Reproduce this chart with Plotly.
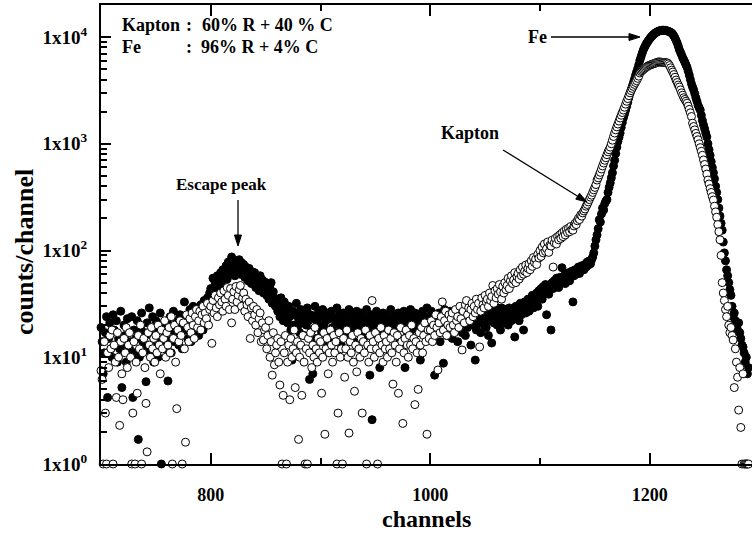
import math
import plotly.graph_objects as go

# ---------------- data ----------------
channels = list(range(700, 1291))

fe_counts = [
    19, 14, 7, 11, 17, 24, 4.2, 15, 21, 12,          # 700
    10, 25, 18, 13, 22, 9, 15, 12, 27, 5.2,          # 710
    13, 20, 16, 9, 23, 17, 12, 14, 24, 4.2,          # 720
    18, 11, 15, 22, 1.7, 10, 19, 26, 14, 12,         # 730
    17, 5.9, 21, 13, 29, 11, 16, 24, 9, 18,          # 740
    22, 14, 10, 19, 26, 1, 13, 21, 17, 12,           # 750
    15, 6, 20, 24, 11, 18, 27, 14, 16, 22,           # 760
    19, 13, 25, 17, 12, 23, 33, 18, 21, 15,          # 770
    24, 28, 14, 20, 30, 17, 22, 26, 19, 16,          # 780
    25, 31, 21, 18, 34, 27, 22, 36, 29, 40,          # 790
    44, 33, 55, 38, 50, 42, 58, 48, 36, 62,          # 800
    52, 66, 45, 60, 72, 54, 78, 63, 70, 87,          # 810
    68, 75, 58, 80, 65, 73, 82, 60, 77, 69,          # 820
    74, 56, 70, 64, 52, 68, 60, 49, 63, 57,          # 830
    62, 45, 55, 50, 42, 58, 47, 53, 40, 51,          # 840
    46, 38, 49, 35, 44, 50, 32, 41, 36, 30,          # 850
    34, 27, 31, 24, 36, 28, 22, 33, 26, 29,          # 860
    21, 30, 24, 18, 9.4, 27, 20, 25, 32, 19,         # 870
    23, 17, 28, 21, 26, 16, 24, 20, 29, 22,          # 880
    6.2, 25, 18, 7, 23, 30, 15, 21, 26, 19,          # 890
    24, 17, 28, 20, 14, 22, 26, 18, 23, 16,          # 900
    27, 19, 15, 23, 21, 29, 17, 25, 20, 13,          # 910
    22, 26, 18, 24, 16, 20, 28, 15, 23, 19,          # 920
    25, 14, 21, 27, 19, 23, 17, 26, 20, 24,          # 930
    18, 22, 28, 16, 21, 6.8, 25, 2.6, 19, 23,        # 940
    20, 27, 15, 24, 8, 22, 18, 26, 14, 21,           # 950
    25, 19, 23, 17, 28, 20, 16, 24, 21, 18,          # 960
    22, 26, 15, 20, 24, 19, 27, 8, 21, 17,           # 970
    24, 20, 28, 18, 23, 14, 26, 21, 19, 25,          # 980
    17, 9.4, 22, 27, 19, 24, 16, 29, 21, 23,         # 990
    19, 27, 22, 15, 6.8, 25, 20, 17, 26, 14,         # 1000
    23, 18, 8.8, 28, 21, 16, 24, 19, 27, 20,         # 1010
    15, 25, 22, 18, 26, 14, 23, 20, 28, 17,          # 1020
    24, 21, 16, 27, 19, 25, 22, 13, 26, 20,          # 1030
    23, 9.4, 18, 28, 21, 25, 17, 24, 29, 20,         # 1040
    26, 19, 23, 16, 28, 22, 13.6, 25, 21, 30,        # 1050
    24, 20, 27, 22, 18, 29, 25, 21, 28, 23,          # 1060
    26, 20, 29, 24, 22, 27, 25, 15.5, 30, 23,        # 1070
    28, 22, 32, 25, 29, 18, 33, 26, 30, 35,          # 1080
    27, 34, 31, 38, 29, 36, 33, 40, 30, 42,          # 1090
    38, 44, 35, 46, 41, 48, 25, 43, 39, 47,          # 1100
    18, 50, 44, 52, 46, 55, 48, 45, 56, 51,          # 1110
    69, 53, 58, 49, 60, 55, 62, 52, 57, 64,          # 1120
    33, 58, 66, 60, 63, 70, 61, 67, 72, 69,          # 1130
    66, 74, 70, 78, 73, 80, 75, 82, 87, 95,          # 1140
    110, 126, 140, 160, 194, 185, 220, 250, 240, 275,  # 1150
    290, 300, 350, 390, 430, 480, 535, 620, 700, 810,  # 1160
    930, 1050, 1150, 1260, 1420, 1580, 1750, 1900, 2070, 2250,  # 1170
    2450, 2700, 2950, 3200, 3450, 3700, 4000, 4350, 4700, 5050,  # 1180
    5500, 6050, 6500, 7000, 7500, 7900, 8300, 8700, 9000, 9350,  # 1190
    9650, 9950, 10200, 10450, 10700, 10900, 11050, 11200, 11350, 11450,  # 1200
    11500, 11550, 11600, 11580, 11550, 11500, 11400, 11300, 11200, 11050,  # 1210
    10900, 10600, 10200, 9800, 9300, 8800, 8200, 7600, 7200, 6800,  # 1220
    6400, 6100, 5800, 5500, 5200, 4800, 4400, 4000, 3650, 3400,  # 1230
    3200, 2950, 2700, 2500, 2300, 2180, 2070, 1850, 1650, 1500,  # 1240
    1380, 1260, 1160, 1000, 880, 780, 680, 600, 535, 470,  # 1250
    400, 350, 300, 250, 210, 180, 155, 120, 95, 80,  # 1260
    66, 58, 50, 43, 38, 30, 24, 26, 22, 20,          # 1270
    18, 21, 17, 15, 13, 12.5, 11, 9, 10, 7,          # 1280
    8,                                               # 1290
]

kapton_counts = [
    7.5, 6.2, 1, 14, 3, 1, 11, 8, 16, 12,            # 700
    18, 1, 13, 9, 4.2, 17, 10, 2.3, 14, 7,           # 710
    4.0, 15, 11, 19, 8, 13, 17, 10, 1, 3.0,          # 720
    14, 1, 9, 4.6, 16, 12, 20, 1, 11, 15,            # 730
    8, 3.7, 1.3, 17, 13, 10, 19, 12, 15, 9,          # 740
    16, 11, 20, 13, 7, 18, 12, 15, 22, 10,           # 750
    17, 13, 19, 11, 24, 1, 15, 20, 9, 3.3,           # 760
    18, 14, 22, 16, 1, 21, 12, 1.6, 25, 19,          # 770
    14, 23, 17, 26, 20, 15, 24, 28, 19, 22,          # 780
    27, 18, 25, 30, 21, 26, 23, 32, 20, 28,          # 790
    30, 13.5, 34, 26, 38, 29, 24, 36, 31, 40,        # 800
    33, 27, 42, 35, 30, 45, 38, 28, 44, 21,          # 810
    35, 41, 28, 46, 33, 38, 43, 47, 30, 36,          # 820
    40, 27, 35, 31, 24, 33, 15, 29, 22, 30,          # 830
    25, 20, 28, 17, 23, 26, 14, 21, 14.5, 18,        # 840
    19, 12, 16, 22, 10, 14, 6.8, 17, 8.5, 11,        # 850
    13, 15, 9, 5.5, 14, 1, 4.4, 11, 16, 1,           # 860
    9, 13, 4.0, 15, 10, 12, 18, 5.2, 11, 14,         # 870
    1.7, 10, 13, 4.4, 16, 9, 1, 12, 1, 15,           # 880
    11, 17, 8, 13, 10, 19, 12, 9, 15, 11,            # 890
    14, 4.6, 10, 17, 1.9, 12, 15, 7, 11, 18,         # 900
    13, 9, 16, 11, 14, 1, 3.0, 17, 10, 12,           # 910
    1, 15, 6.5, 12, 18, 10, 1.95, 14, 11, 16,        # 920
    9, 4.8, 13, 7.3, 17, 12, 10, 15, 3.0, 14,        # 930
    11, 18, 1, 13, 9, 16, 12, 34, 14, 10,            # 940
    17, 12, 1, 15, 11, 19, 13, 9, 16, 12,            # 950
    14, 10, 18, 12, 15, 11, 5.6, 17, 13, 9,          # 960
    16, 4.6, 12, 19, 14, 2.4, 11, 15, 18, 13,        # 970
    10, 16, 13, 20, 12, 15, 3.6, 14, 11, 5,          # 980
    17, 13, 19, 11, 16, 21, 14, 1.9, 18, 15,         # 990
    18, 22, 14, 20, 16, 25, 19, 7.6, 21, 17,         # 1000
    24, 33, 18, 22, 27, 16, 20, 25, 19, 23,          # 1010
    26, 20, 17, 28, 22, 24, 19, 30, 23, 11.7,        # 1020
    27, 21, 31, 34, 25, 29, 22, 28, 32, 24,          # 1030
    30, 26, 35, 28, 32, 12.5, 27, 36, 31, 29,        # 1040
    38, 33, 35, 30, 40, 34, 37, 47, 32, 42,          # 1050
    36, 44, 39, 48, 41, 35, 46, 40, 50, 43,          # 1060
    47, 55, 44, 52, 58, 49, 53, 62, 50, 57,          # 1070
    61, 54, 66, 58, 70, 60, 64, 73, 62, 68,          # 1080
    75, 66, 80, 71, 86, 77, 83, 74, 92, 85,          # 1090
    100, 88, 108, 95, 115, 98, 104, 120, 96, 112,    # 1100
    110, 125, 70, 118, 130, 115, 135, 126, 140, 130,  # 1110
    146, 135, 152, 140, 158, 147, 162, 150, 168, 157,  # 1120
    155, 170, 180, 175, 190, 200, 195, 215, 210, 225,  # 1130
    235, 245, 260, 270, 285, 300, 316, 330, 350, 370,  # 1140
    390, 415, 457, 480, 510, 540, 580, 620, 660, 700,  # 1150
    740, 790, 840, 880, 930, 1000, 1080, 1170, 1260, 1350,  # 1160
    1440, 1530, 1630, 1740, 1850, 1960, 2070, 2200, 2350, 2500,  # 1170
    2650, 2820, 3000, 3150, 3300, 3450, 3600, 3750, 3900, 4100,  # 1180
    4300, 4600, 4750, 4850, 4950, 5050, 5150, 5250, 5300, 5400,  # 1190
    5450, 5500, 5550, 5600, 5650, 5700, 5750, 5800, 5850, 5830,  # 1200
    5820, 5800, 5790, 5780, 5760, 5740, 5720, 5600, 5400, 5150,  # 1210
    4900, 4700, 4450, 4200, 3950, 3750, 3550, 3400, 3200, 3000,  # 1220
    2850, 2700, 2600, 2500, 2400, 2250, 2100, 1950, 1800, 1560,  # 1230
    1450, 1350, 1250, 1170, 1090, 1000, 920, 850, 780, 705,  # 1240
    640, 580, 520, 457, 420, 380, 350, 320, 297, 260,  # 1250
    230, 205, 175, 150, 126, 90, 50, 40, 34, 28,     # 1260
    24, 30, 20, 17, 19, 16, 14.5, 5.2, 12, 9,        # 1270
    6.5, 3.2, 8, 2.2, 1, 7, 1, 1, 1, 1,              # 1280
    1,                                               # 1290
]

y_tickvals = [1, 10, 100, 1000, 10000]
y_ticktext = ["1x10<sup>0</sup>", "1x10<sup>1</sup>", "1x10<sup>2</sup>",
              "1x10<sup>3</sup>", "1x10<sup>4</sup>"]
x_tickvals = [800, 1000, 1200]
x_minor_ticks = [900, 1100]
y_minor_ticks = [m * d for d in (1, 10, 100, 1000) for m in range(2, 10)]

assert len(fe_counts) == len(channels), len(fe_counts)
assert len(kapton_counts) == len(channels), len(kapton_counts)

# ---------------- layout geometry ----------------
W, H = 752, 536
L, R, T, B = 101, 0, 5, 72
PW, PH = W - L - R, H - T - B
FONT = "Liberation Serif"


def P(xp, yp):
    return (xp - L) / PW, (T + PH - yp) / PH


fig = go.Figure()
fig.add_trace(go.Scatter(
    x=channels, y=fe_counts, mode="markers", name="Fe", cliponaxis=False,
    marker=dict(symbol="circle", size=8, color="black",
                line=dict(color="black", width=1))))
fig.add_trace(go.Scatter(
    x=channels, y=kapton_counts, mode="markers", name="Kapton", cliponaxis=False,
    marker=dict(symbol="circle", size=8, color="white",
                line=dict(color="black", width=1))))

annotations = []
shapes = []


def text(s, xp, yp, size=18, xanchor="left", angle=0):
    x, y = P(xp, yp)
    annotations.append(dict(
        x=x, y=y, xref="paper", yref="paper", text=s, showarrow=False,
        xanchor=xanchor, yanchor="middle", textangle=angle,
        font=dict(family=FONT, size=size, color="black", weight="bold")))


def arrow(tail, head, length=11, half_width=3.5):
    dx, dy = head[0] - tail[0], head[1] - tail[1]
    d = math.hypot(dx, dy)
    ux, uy = dx / d, dy / d
    bx, by = head[0] - ux * length, head[1] - uy * length
    nx, ny = -uy, ux
    x0, y0 = P(*tail)
    x1, y1 = P(bx, by)
    shapes.append(dict(type="line", xref="paper", yref="paper",
                       x0=x0, y0=y0, x1=x1, y1=y1,
                       line=dict(color="black", width=1.3)))
    pts = [head, (bx + nx * half_width, by + ny * half_width),
           (bx - nx * half_width, by - ny * half_width)]
    pp = [P(*p) for p in pts]
    path = "M {} {} L {} {} L {} {} Z".format(pp[0][0], pp[0][1], pp[1][0],
                                              pp[1][1], pp[2][0], pp[2][1])
    shapes.append(dict(type="path", xref="paper", yref="paper", path=path,
                       fillcolor="black", line=dict(color="black", width=1)))


text("Kapton", 120, 25)
text(":", 184, 25)
text("60% R + 40 % C", 200, 25)
text("Fe", 120, 47)
text(":", 184, 47)
text("96% R + 4% C", 199, 47)

text("Fe", 526, 37)
arrow((551, 37), (640, 37))
text("Kapton", 470, 133, xanchor="center")
arrow((503, 150), (587, 202))
text("Escape peak", 221, 184, size=17, xanchor="center")
arrow((238, 200), (238, 246))

text("channels", 426, 519, size=24, xanchor="center")
text("counts/channel", 24, 252, size=26, xanchor="center", angle=-90)

fig.update_layout(
    width=W, height=H,
    margin=dict(l=L, r=R, t=T, b=B),
    paper_bgcolor="white", plot_bgcolor="white",
    showlegend=False,
    annotations=annotations,
    shapes=shapes,
    xaxis=dict(
        range=[700, 700 + (PW) / 1.0975], showgrid=False, zeroline=False,
        showline=True, linecolor="black", linewidth=2, mirror="ticks",
        ticks="inside", ticklen=11, tickwidth=2, tickcolor="black",
        tickmode="array", tickvals=x_tickvals,
        tickfont=dict(family=FONT, size=18, color="black", weight="bold"),
        ticklabelstandoff=13,
        minor=dict(tickmode="array", tickvals=x_minor_ticks, ticks="inside",
                   ticklen=6, tickwidth=2, tickcolor="black", showgrid=False),
    ),
    yaxis=dict(
        type="log", range=[0, 4.3], showgrid=False, zeroline=False,
        showline=True, linecolor="black", linewidth=2, mirror=False,
        ticks="inside", ticklen=10, tickwidth=2, tickcolor="black",
        tickmode="array", tickvals=y_tickvals, ticktext=y_ticktext,
        tickfont=dict(family=FONT, size=19, color="black", weight="bold"),
        ticklabelstandoff=8,
        minor=dict(tickmode="array", tickvals=y_minor_ticks, ticks="inside",
                   ticklen=6, tickwidth=1.5, tickcolor="black", showgrid=False),
    ),
)

fig.write_html("out.html")
